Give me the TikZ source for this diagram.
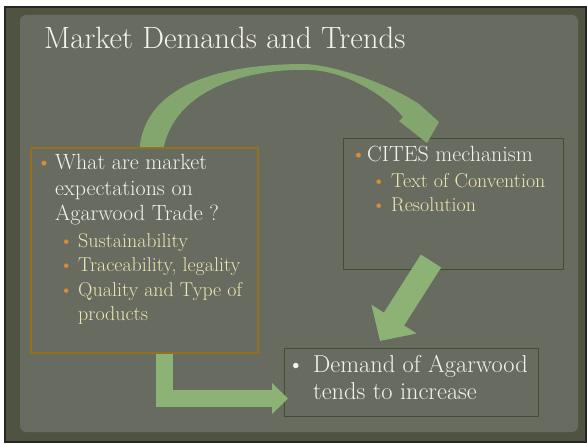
\documentclass[tikz,border=0pt]{standalone}
\usepackage{fontspec}
\usepackage{xcolor}
\usetikzlibrary{arrows.meta,positioning}

\definecolor{framecol}{HTML}{4F5441}
\definecolor{slidecol}{HTML}{686B60}
\definecolor{boxorange}{HTML}{94701C}
\definecolor{boxgreen}{HTML}{3E5233}
\definecolor{dotorange}{HTML}{D98B3C}
\definecolor{subyellow}{HTML}{EDE7B4}
\definecolor{textwhite}{HTML}{F4F4EE}
\definecolor{arrowgreen}{HTML}{8DB275}
\definecolor{curvegreen}{HTML}{83A56E}

% #1 bullet colour, #2 bullet box width, #3 text
\newcommand{\mainpoint}[3]{%
  \leftskip=0pt\hangindent=#2\hangafter=1
  \noindent\makebox[#2][l]{\kern-2pt\textcolor{#1}{\textbullet}}#3\par}
% #1 indent, #2 bullet box width, #3 text
\newcommand{\subpoint}[3]{%
  \fontsize{20}{24.5}\selectfont\leftskip=#1\hangindent=#2\hangafter=1
  \noindent\makebox[#2][l]{\kern-2pt\textcolor{dotorange}{\textbullet}}\textcolor{subyellow}{#3}\par}

\begin{document}
\begin{tikzpicture}[
  x=1pt, y=-1pt,
  every node/.style={font=\fontsize{22}{25.5}\selectfont},
  orangebox/.style={draw=boxorange, line width=1.5pt, anchor=north west, inner sep=0pt},
  greenbox/.style={draw=boxgreen, line width=1pt, anchor=north west, inner sep=0pt},
  listtext/.style={anchor=base west, inner sep=0pt, text=textwhite},
  flow/.style={draw=arrowgreen, line join=miter}
]
  \useasboundingbox (0,0) rectangle (587,444);
  \fill[white] (0,0) rectangle (587,444);
  \fill[black!85] (4,6) rectangle (587,443);
  \fill[framecol] (6,8) rectangle (585,441);
  \fill[slidecol, rounded corners=6pt] (20,15) rectangle (578,432);

  \node[listtext, font=\fontsize{30.8}{36}\selectfont] (title) at (44,49) {Market Demands and Trends};

  \node[orangebox, minimum width=227pt, minimum height=205pt] (market) at (30,147) {};
  \node[greenbox, minimum width=220pt, minimum height=131pt] (cites) at (343,138) {};
  \node[greenbox, minimum width=254pt, minimum height=68pt] (demand) at (284,348) {};

  \node[listtext] (marketlist) at ([xshift=8pt,yshift=-22.5pt]market.north west) {\parbox[t]{260pt}{%
    \mainpoint{dotorange}{17pt}{What are market\\expectations on\\Agarwood Trade ?}%
    \vspace{2.5pt}%
    \subpoint{23pt}{17pt}{Sustainability}%
    \subpoint{23pt}{17pt}{Traceability, legality}%
    \subpoint{23pt}{17pt}{Quality and Type of\\products}}};
  \node[listtext] (citeslist) at ([xshift=9.5pt,yshift=-23pt]cites.north west) {\parbox[t]{240pt}{%
    \mainpoint{dotorange}{14.5pt}{CITES mechanism}%
    \vspace{1.5pt}%
    \subpoint{21pt}{17.5pt}{Text of Convention}%
    \subpoint{21pt}{17.5pt}{Resolution}}};
  \node[listtext, font=\fontsize{24.4}{27}\selectfont] (demandlist) at ([xshift=5pt,yshift=-24pt]demand.north west) {\parbox[t]{280pt}{%
    \mainpoint{textwhite}{24pt}{Demand of Agarwood\\tends to increase}}};

  % curved arrow over the top
  \fill[curvegreen] ([xshift=-4.5pt]market.north) .. controls (145,95) and (200,64) .. (305,64)
    .. controls (340,66) and (392,86) .. (419,104) -- (439,122)
    -- ([xshift=84pt,yshift=-5pt]cites.north west) -- (399,121) -- (403,117)
    .. controls (385,95) and (345,71) .. (310,70)
    .. controls (260,68) and (178,83) .. ([xshift=19.5pt]market.north) -- cycle;
  \draw[flow, line width=24pt, -{Triangle[length=26pt,width=52pt]}]
    ([xshift=88pt,yshift=9pt]cites.south west) -- ([xshift=96pt,yshift=7pt]demand.north west);
  \draw[flow, line width=17pt, -{Triangle[length=16pt,width=30pt]}]
    ([xshift=20.5pt]market.south) |- ([xshift=4pt,yshift=-16pt]demand.west);
\end{tikzpicture}
\end{document}
